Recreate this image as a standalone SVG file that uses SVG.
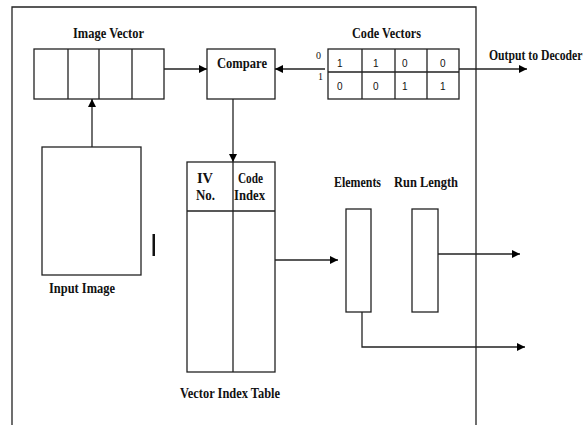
<svg xmlns="http://www.w3.org/2000/svg" width="587" height="425" viewBox="0 0 587 425">
<defs>
<marker id="ah" viewBox="0 0 10 10" refX="10" refY="5" markerWidth="8" markerHeight="8" markerUnits="userSpaceOnUse" orient="auto">
<path d="M0,0 L10,5 L0,10 Z" fill="#000"/>
</marker>
<style>
.box{fill:#fff;stroke:#222;stroke-width:1.3}
.ln{fill:none;stroke:#222;stroke-width:1.3}
.ar{fill:none;stroke:#222;stroke-width:1.3;marker-end:url(#ah)}
.t{font-family:"Liberation Serif","Times New Roman",serif;font-weight:bold;font-size:15px;fill:#111}
.d{font-family:"Liberation Sans",Arial,sans-serif;font-size:10px;fill:#111}
.s{font-family:"Liberation Serif","Times New Roman",serif;font-size:10px;fill:#111}
</style>
</defs>
<rect width="587" height="425" fill="#fff"/>
<g id="frame">
<path class="ln" d="M12,425 V7 H476 V425"/>
</g>
<g id="image-vector">
<rect class="box" x="34" y="49" width="130" height="50"/>
<path class="ln" d="M68,49 V99 M99,49 V99 M132,49 V99"/>
<text class="t" x="73" y="38" textLength="71" lengthAdjust="spacingAndGlyphs">Image Vector</text>
</g>
<g id="compare">
<rect class="box" x="207" y="49" width="68" height="50"/>
<text class="t" x="217" y="68" textLength="50" lengthAdjust="spacingAndGlyphs">Compare</text>
</g>
<g id="code-vectors">
<rect class="box" x="328" y="49" width="131" height="50"/>
<path class="ln" d="M328,72 H459 M362,49 V99 M395,49 V99 M427,49 V99"/>
<text class="t" x="352" y="38" textLength="69" lengthAdjust="spacingAndGlyphs">Code Vectors</text>
<text class="s" x="316" y="59">0</text>
<text class="s" x="318" y="80">1</text>
<text class="d" x="337" y="67">1</text>
<text class="d" x="373" y="67">1</text>
<text class="d" x="402" y="67">0</text>
<text class="d" x="440" y="67">0</text>
<text class="d" x="337" y="90">0</text>
<text class="d" x="373" y="90">0</text>
<text class="d" x="402" y="90">1</text>
<text class="d" x="440" y="90">1</text>
</g>
<g id="output-label">
<text class="t" transform="translate(489,60) scale(0.78,1)" x="0" y="0">Output to Decoder</text>
</g>
<g id="input-image">
<rect class="box" x="42" y="147" width="99" height="128"/>
<text class="t" x="49" y="293" textLength="66" lengthAdjust="spacingAndGlyphs">Input Image</text>
</g>
<g id="cursor-mark">
<rect x="152.5" y="234" width="2.5" height="22" fill="#111"/>
</g>
<g id="vector-index-table">
<rect class="box" x="187" y="162" width="88" height="210"/>
<path class="ln" d="M187,211 H275 M233,162 V372"/>
<text class="t" x="197" y="183" textLength="16" lengthAdjust="spacingAndGlyphs">IV</text>
<text class="t" x="196" y="200" textLength="19" lengthAdjust="spacingAndGlyphs">No.</text>
<text class="t" x="238" y="183" font-size="13" textLength="25" lengthAdjust="spacingAndGlyphs">Code</text>
<text class="t" x="234" y="200" textLength="31" lengthAdjust="spacingAndGlyphs">Index</text>
<text class="t" x="180" y="398" textLength="100" lengthAdjust="spacingAndGlyphs">Vector Index Table</text>
</g>
<g id="elements">
<rect class="box" x="346" y="209" width="25" height="103"/>
<text class="t" x="334" y="187" textLength="47" lengthAdjust="spacingAndGlyphs">Elements</text>
</g>
<g id="run-length">
<rect class="box" x="412" y="209" width="26" height="103"/>
<text class="t" x="394" y="187" textLength="64" lengthAdjust="spacingAndGlyphs">Run Length</text>
</g>
<g id="connectors">
<path class="ar" d="M164,69 H207"/>
<path class="ar" d="M325,69 H275"/>
<path class="ar" d="M92,147 V99"/>
<path class="ar" d="M233,99 V162"/>
<path class="ar" d="M459,69 H527"/>
<path class="ar" d="M275,260 H338"/>
<path class="ar" d="M438,254 H520"/>
<path class="ar" d="M362,312 V347 H525"/>
</g>
</svg>
